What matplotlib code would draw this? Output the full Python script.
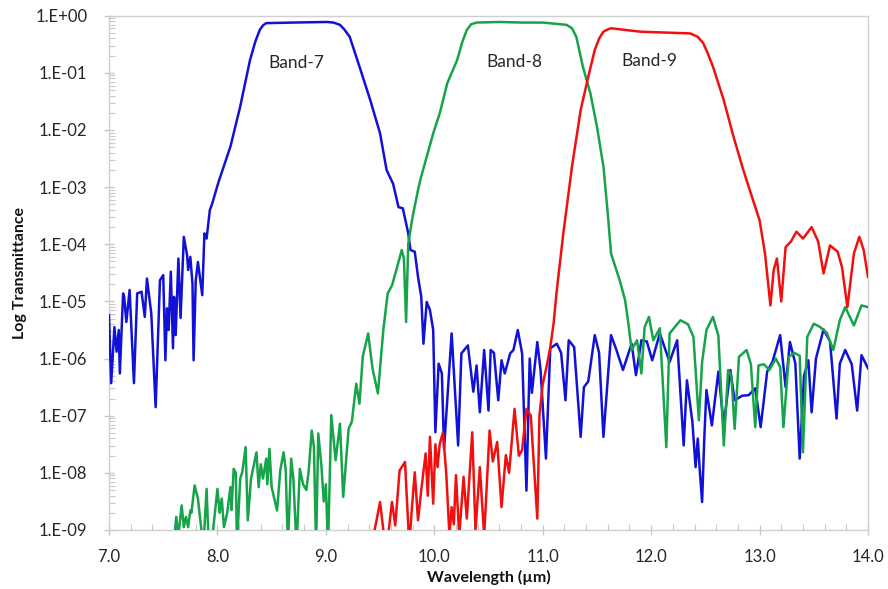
import numpy as np
import matplotlib
matplotlib.use("Agg")
import matplotlib.pyplot as plt
from matplotlib.ticker import FixedLocator, FuncFormatter, LogLocator, MultipleLocator

plt.rcParams['font.family'] = ['Lato', 'DejaVu Sans']

# ---- data: wavelength (um) and log10(transmittance) ----
band7_wl = [7.00, 7.02, 7.05, 7.07, 7.09, 7.10, 7.13, 7.14, 7.16, 7.19, 7.23, 7.26, 7.30, 7.33, 7.35,
            7.39, 7.43, 7.47, 7.50, 7.52, 7.535, 7.55, 7.57, 7.59, 7.60, 7.615, 7.64, 7.66, 7.69, 7.72,
            7.73, 7.75, 7.77, 7.78, 7.80, 7.82, 7.86, 7.88, 7.90, 7.93, 7.95, 8.01, 8.12, 8.21, 8.30,
            8.35, 8.39, 8.42, 8.45, 8.70, 9.01, 9.07, 9.13, 9.17, 9.22, 9.31, 9.41, 9.50, 9.56, 9.62,
            9.67, 9.71, 9.76, 9.78,
            9.82, 9.85, 9.88, 9.90, 9.93, 9.96, 9.99, 10.01, 10.04, 10.07, 10.09, 10.16, 10.22, 10.25,
            10.31, 10.36, 10.39, 10.42, 10.46, 10.50, 10.52, 10.55, 10.59, 10.62, 10.65, 10.70, 10.73,
            10.77, 10.81, 10.85, 10.88, 10.90, 10.95, 10.98, 11.03, 11.07, 11.13, 11.17, 11.21, 11.24,
            11.29, 11.35, 11.38, 11.42, 11.48, 11.52, 11.56, 11.63, 11.68, 11.74, 11.82, 11.86, 11.91,
            11.96, 12.01, 12.08, 12.17, 12.24, 12.30, 12.33, 12.38, 12.41, 12.43, 12.45, 12.47, 12.49,
            12.51, 12.56, 12.62, 12.67, 12.73, 12.77, 12.84, 12.90, 12.96, 13.01, 13.07, 13.12, 13.19,
            13.24, 13.28, 13.33, 13.37, 13.41, 13.45, 13.48, 13.52, 13.59, 13.65, 13.71, 13.74, 13.79,
            13.85, 13.90, 13.94, 14.00]
band7_log = [-5.24, -6.43, -5.45, -5.88, -5.50, -6.26, -4.86, -4.92, -5.36, -4.80, -6.43, -4.86, -4.83,
             -5.27, -4.60, -5.21, -6.85, -4.63, -4.54, -6.03, -5.12, -5.50, -4.48, -5.82, -4.92, -5.59,
             -4.25, -5.29, -3.87, -4.19, -4.45, -4.22, -4.69, -6.03, -4.63, -4.31, -4.89, -3.81, -3.90,
             -3.40, -3.30, -2.91, -2.29, -1.59, -0.78, -0.45, -0.25, -0.17, -0.13, -0.12, -0.11, -0.12,
             -0.16, -0.24, -0.37, -0.89, -1.48, -2.06, -2.70, -2.94, -3.35, -3.37, -3.81, -4.10,
             -4.13, -4.57, -4.92, -5.74, -5.01,
             -5.15, -5.50, -7.29, -6.09, -6.26, -7.58, -5.56, -7.52, -5.91, -5.77, -6.58, -6.12, -6.94,
             -5.85, -6.91, -5.85, -5.90, -6.73, -6.03, -6.26, -5.91, -5.85, -5.50, -5.91, -8.31, -6.00,
             -6.60, -5.71, -6.20, -7.75, -5.82, -5.74, -5.90, -6.73, -5.68, -5.80, -7.37, -6.50, -6.40,
             -5.59, -5.90, -7.37, -5.59, -5.85, -6.20, -5.74, -6.29, -5.68, -5.70, -6.03, -5.56, -6.06,
             -5.68, -7.52, -6.38, -7.10, -7.90, -7.40, -8.00, -8.51, -7.40, -6.55, -7.17, -6.23, -7.17,
             -6.20, -6.73, -6.65, -6.64, -6.52, -7.20, -6.23, -6.05, -5.59, -6.50, -5.71, -6.09, -7.75,
             -6.30, -6.03, -6.94, -6.00, -5.49, -5.70, -7.05, -6.09, -5.85, -6.10, -6.91, -5.94, -6.17]

band8_wl = [7.58, 7.61, 7.62, 7.64, 7.67, 7.69, 7.71, 7.73, 7.75, 7.76, 7.79, 7.82, 7.85, 7.87, 7.90,
            7.92, 7.96, 8.00, 8.02, 8.04, 8.06, 8.09, 8.12, 8.13, 8.15, 8.17, 8.18, 8.21, 8.23, 8.26,
            8.28, 8.31, 8.36, 8.38, 8.40, 8.42, 8.45, 8.46, 8.48, 8.50, 8.55, 8.58, 8.61, 8.63, 8.65,
            8.68, 8.70, 8.73, 8.76, 8.79, 8.82, 8.84, 8.87, 8.89, 8.91, 8.93, 8.96, 8.98, 9.00, 9.02,
            9.05, 9.09, 9.13, 9.16, 9.21, 9.24, 9.28, 9.31, 9.34, 9.39, 9.43, 9.48, 9.53, 9.57, 9.61,
            9.65, 9.70, 9.72, 9.74, 9.76, 9.80, 9.85, 9.87, 9.99, 10.05, 10.12, 10.21, 10.26, 10.30,
            10.34, 10.39, 10.60, 10.82, 11.00, 11.22, 11.27, 11.31, 11.37, 11.44, 11.50, 11.56, 11.60,
            11.63, 11.71, 11.76,
            11.79, 11.82, 11.87, 11.91, 11.94, 11.98, 12.02, 12.08, 12.14, 12.17, 12.27, 12.34, 12.39,
            12.44, 12.47, 12.51, 12.57, 12.62, 12.67, 12.71, 12.74, 12.77, 12.81, 12.88, 12.92, 12.96,
            12.99, 13.04, 13.09, 13.15, 13.19, 13.22, 13.27, 13.32, 13.37, 13.40, 13.44, 13.50, 13.56,
            13.62, 13.68, 13.74, 13.79, 13.87, 13.94, 14.00]
band8_log = [-9.3, -9.0, -8.77, -9.1, -8.57, -8.95, -8.77, -8.95, -8.66, -8.70, -8.22, -8.45, -8.95,
             -9.3, -8.28, -9.3, -9.0, -8.28, -8.70, -8.45, -8.95, -8.70, -8.25, -8.65, -7.93, -8.0,
             -9.3, -8.10, -7.98, -7.55, -8.83, -8.10, -7.64, -8.25, -7.85, -8.10, -7.75, -8.20, -7.58,
             -8.25, -8.66, -7.95, -7.64, -7.95, -9.3, -7.75, -8.10, -9.3, -7.93, -8.20, -8.30, -8.00,
             -7.26, -7.55, -9.3, -7.31, -7.90, -8.50, -8.20, -9.3, -6.99, -7.78, -7.14, -8.42, -7.23,
             -7.10, -6.44, -6.79, -5.97, -5.56, -6.17, -6.61, -5.50, -4.86, -4.72, -4.45, -4.10, -4.25,
             -5.36, -3.99, -3.52, -3.05, -2.88, -2.06, -1.71, -1.18, -0.78, -0.45, -0.25, -0.15, -0.12,
             -0.11, -0.12, -0.12, -0.16, -0.22, -0.37, -0.89, -1.36, -1.94, -2.64, -3.46, -4.16, -4.63,
             -4.98, -5.39, -5.85,
             -5.68, -6.26, -5.45, -5.27, -5.68, -5.47, -7.55, -5.56, -5.33, -5.40, -5.62, -7.08, -6.06,
             -5.50, -5.27, -5.60, -7.52, -6.20, -6.30, -7.23, -5.97, -5.85, -6.10, -7.20, -6.12, -6.10,
             -6.20, -6.00, -6.15, -7.20, -5.97, -5.90, -5.95, -7.64, -5.62, -5.39, -5.45, -5.55, -5.85,
             -5.33, -5.10, -5.42, -5.07, -5.10]

band9_wl = [9.42, 9.45, 9.50, 9.53, 9.56, 9.58, 9.61, 9.64, 9.68, 9.73, 9.77, 9.79, 9.82, 9.85, 9.88,
            9.92, 9.94, 9.96, 9.99, 10.01, 10.03, 10.05, 10.08, 10.11, 10.14, 10.16, 10.18, 10.20,
            10.23, 10.27, 10.30, 10.35, 10.38, 10.42, 10.46, 10.51, 10.54, 10.58, 10.62, 10.66, 10.69,
            10.74, 10.78, 10.81, 10.85, 10.89, 10.95, 10.97, 11.00, 11.04, 11.07, 11.10, 11.13, 11.19,
            11.27, 11.35, 11.42, 11.48, 11.52, 11.56, 11.60, 11.63, 11.90, 12.36, 12.43, 12.48, 12.52,
            12.57, 12.67, 12.76, 12.85,
            12.94, 13.00, 13.05, 13.10, 13.13, 13.16, 13.20, 13.24, 13.29, 13.34, 13.40, 13.48, 13.54,
            13.59, 13.65, 13.72, 13.76, 13.81, 13.87, 13.92, 13.96, 14.00]
band9_log = [-9.3, -9.0, -8.51, -9.0, -9.2, -9.0, -8.51, -8.92, -7.96, -7.81, -9.3, -8.70, -7.99, -8.83,
             -8.30, -7.66, -8.40, -7.37, -8.54, -7.50, -7.90, -7.50, -7.29, -8.00, -9.1, -8.60, -8.90,
             -8.04, -9.1, -8.07, -8.80, -7.29, -9.0, -7.90, -9.1, -7.26, -7.80, -7.46, -8.60, -7.69,
             -8.00, -6.88, -7.70, -7.60, -6.88, -7.00, -8.80, -7.00, -6.45, -6.10, -5.80, -5.39, -4.80,
             -3.81, -2.64, -1.65, -1.07, -0.60, -0.40, -0.28, -0.24, -0.22, -0.28, -0.31, -0.37, -0.48,
             -0.65, -0.89, -1.48, -2.12, -2.70,
             -3.23, -3.58, -4.16, -5.07, -4.45, -4.25, -5.00, -4.05, -3.95, -3.78, -3.90, -3.70,
             -3.95, -4.51, -4.02, -4.13, -4.40, -5.10, -4.16, -3.87, -4.10, -4.57]

band_names = ["Band-7", "Band-8", "Band-9"]
band_colors = ["#1212d6", "#17a34a", "#f01010"]
label_pos = [(8.725, -0.823), (10.736, -0.806), (11.985, -0.793)]

y_ticks = [10.0 ** e for e in range(0, -10, -1)]
x_ticks = [7.0, 8.0, 9.0, 10.0, 11.0, 12.0, 13.0, 14.0]

fig = plt.figure(figsize=(8.88, 5.89), dpi=100)
ax = fig.add_axes([109 / 888, 1 - 530 / 589, (868 - 109) / 888, (530 - 15.7) / 589])

series = [(band7_wl, band7_log), (band8_wl, band8_log), (band9_wl, band9_log)]
order = [1, 0, 2]
for i in order:
    wl, lg = series[i]
    ax.plot(wl, 10.0 ** np.array(lg), color=band_colors[i], lw=1.8, zorder=3 + i,
            solid_joinstyle='round')

for name, (px, py) in zip(band_names, label_pos):
    ax.text(px, 10.0 ** py, name, ha='center', va='center', fontsize=12.5, color='#262626')

ax.set_yscale('log')
ax.set_xlim(7.0, 14.0)
ax.set_ylim(1e-9, 1.0)
ax.yaxis.set_major_locator(FixedLocator(y_ticks))
ax.yaxis.set_minor_locator(LogLocator(base=10, subs=np.arange(2, 10)))
ax.yaxis.set_major_formatter(FuncFormatter(lambda v, p: "1.E%+03d" % int(round(np.log10(v)))))
ax.xaxis.set_major_locator(FixedLocator(x_ticks))
ax.xaxis.set_minor_locator(MultipleLocator(0.2))
ax.xaxis.set_major_formatter(FuncFormatter(lambda v, p: "%.1f" % v))

for s in ax.spines.values():
    s.set_color('#d0d0d0')
    s.set_linewidth(1.0)
ax.tick_params(which='major', direction='inout', length=7, width=1.0, color='#c8c8c8',
               labelsize=12, labelcolor='#262626')
ax.tick_params(axis='x', which='major', pad=10)
ax.tick_params(axis='y', which='major', pad=12)
ax.tick_params(which='minor', direction='in', length=4, width=0.8, color='#c8c8c8')

ax.set_xlabel("Wavelength (\u00b5m)", fontsize=11.5, fontweight='bold', color='#111111', labelpad=4)
ax.set_ylabel("Log Transmittance", fontsize=11.5, fontweight='bold', color='#111111', labelpad=6)

fig.savefig("out.png", dpi=100)
